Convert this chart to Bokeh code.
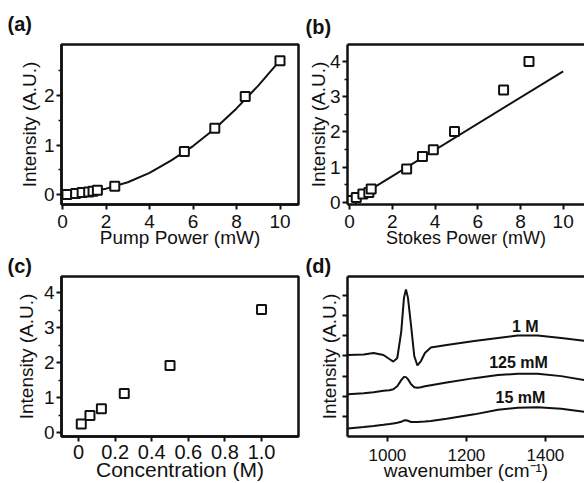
from bokeh.plotting import figure
from bokeh.models import LinearAxis, FixedTicker, Range1d, Title
from bokeh.layouts import gridplot
from bokeh.embed import file_html
from bokeh.resources import INLINE
from bokeh.core.properties import value

# ---------------- data ----------------
# (a) intensity vs pump power
pump_x = [0.2, 0.6, 0.9, 1.2, 1.4, 1.6, 2.4, 5.6, 7.0, 8.4, 10.0]
pump_y = [0.0, 0.02, 0.04, 0.05, 0.07, 0.09, 0.17, 0.87, 1.34, 1.98, 2.70]
pump_fit_x = [0, 1, 2, 3, 4, 5, 6, 7, 8, 9, 10]
pump_fit_y = [0.01, 0.04, 0.12, 0.25, 0.44, 0.69, 0.98, 1.33, 1.74, 2.20, 2.71]

# (b) intensity vs Stokes power
stokes_x = [0.08, 0.31, 0.62, 0.90, 1.01, 2.67, 3.41, 3.92, 4.91, 7.21, 8.40]
stokes_y = [0.05, 0.14, 0.24, 0.28, 0.38, 0.95, 1.30, 1.49, 2.01, 3.19, 4.00]
stokes_fit_x = [0.0, 10.0]
stokes_fit_y = [0.0, 3.72]

# (c) intensity vs concentration
conc_x = [0.015, 0.0625, 0.125, 0.25, 0.5, 1.0]
conc_y = [0.25, 0.49, 0.68, 1.12, 1.92, 3.52]

# (d) spectra (offset, arbitrary units)
wn = [900, 940, 965, 990, 1005, 1015, 1025, 1035, 1042, 1047, 1052, 1060,
      1068, 1076, 1085, 1095, 1110, 1150, 1220, 1280, 1330, 1380, 1440, 1500]
spec_1M = [4.05, 4.08, 4.15, 4.05, 3.85, 3.72, 3.9, 5.2, 6.9, 7.3, 6.9, 5.5,
           4.0, 3.53, 3.75, 4.15, 4.42, 4.55, 4.75, 4.9, 5.02, 5.02, 4.9, 4.75]
spec_125mM = [2.1, 2.15, 2.2, 2.27, 2.3, 2.35, 2.5, 2.8, 2.96, 2.95, 2.85, 2.6,
              2.45, 2.42, 2.45, 2.5, 2.55, 2.68, 2.9, 3.05, 3.12, 3.12, 3.0, 2.8]
spec_15mM = [0.4, 0.47, 0.52, 0.58, 0.62, 0.65, 0.68, 0.73, 0.8, 0.81, 0.78, 0.72,
             0.72, 0.72, 0.73, 0.74, 0.77, 0.88, 1.1, 1.33, 1.43, 1.45, 1.38, 1.22]
spec_labels = ["1 M", "125 mM", "15 mM"]
spec_label_x = [1349, 1332, 1337]
spec_label_y = [5.46, 3.70, 1.95]

FONT = "Liberation Sans"
INK = "#111111"


def style_axis(ax, label, size="19px", label_size="19px", standoff=0, lab_standoff=0):
    ax.axis_line_width = 2.5
    ax.axis_line_color = INK
    ax.major_tick_out = 5
    ax.major_tick_in = 0
    ax.minor_tick_out = 3
    ax.minor_tick_in = 0
    ax.major_tick_line_width = 2
    ax.minor_tick_line_width = 1.5
    ax.major_tick_line_color = INK
    ax.minor_tick_line_color = INK
    ax.major_label_text_font = FONT
    ax.major_label_text_font_size = size
    ax.major_label_text_color = INK
    ax.major_label_standoff = standoff
    ax.axis_label = label
    ax.axis_label_text_font = FONT
    ax.axis_label_text_font_size = label_size
    ax.axis_label_text_font_style = "normal"
    ax.axis_label_text_color = INK
    ax.axis_label_standoff = lab_standoff


def make_fig(w, h, xr, yr, bl, br, bt, bb, open_right, tag, tag_off, tag_standoff):
    p = figure(width=w, height=h, x_range=Range1d(*xr), y_range=Range1d(*yr),
               output_backend="svg", toolbar_location=None,
               min_border_left=bl, min_border_right=br,
               min_border_top=bt, min_border_bottom=bb)
    p.grid.visible = False
    p.background_fill_color = "white"
    p.border_fill_color = "white"
    if open_right:
        p.outline_line_color = None
        top = LinearAxis(ticker=FixedTicker(ticks=[], minor_ticks=[]),
                         axis_line_width=2.5, axis_line_color=INK,
                         major_tick_out=0, minor_tick_out=0, major_label_standoff=0)
        p.add_layout(top, "above")
    else:
        p.outline_line_color = INK
        p.outline_line_width = 2.5
        p.outline_line_alpha = 1.0
    p.add_layout(Title(text=tag, text_font=FONT, text_font_size="20px",
                       text_font_style="bold", text_color=INK, align="left",
                       offset=tag_off, standoff=tag_standoff), "above")
    return p


# ---------------- (a) ----------------
pa = make_fig(300, 252, (-0.05, 10.85), (-0.2, 3.03), 61, 2, 44, 48, False, "(a)", -54, 19)
xa, ya = pa.below[0], pa.left[0]
style_axis(xa, "Pump Power (mW)", standoff=5, lab_standoff=-4)
style_axis(ya, "Intensity (A.U.)", standoff=2, lab_standoff=1)
xa.ticker = FixedTicker(ticks=[0, 2, 4, 6, 8, 10])
ya.ticker = FixedTicker(ticks=[0, 1, 2], minor_ticks=[0.5, 1.5, 2.5])
pa.line(pump_fit_x, pump_fit_y, line_color=INK, line_width=2)
pa.scatter(pump_x, pump_y, marker="square", size=9, fill_color="white",
           line_color=INK, line_width=2)

# ---------------- (b) ----------------
pb = make_fig(284, 252, (-0.1, 11.0), (-0.06, 4.48), 47, 0, 44, 48, True, "(b)", -42, 13)
xb, yb = pb.below[0], pb.left[0]
style_axis(xb, "Stokes Power (mW)", label_size="18px", standoff=5, lab_standoff=-3)
style_axis(yb, "Intensity (A.U.)", standoff=2, lab_standoff=-2)
xb.ticker = FixedTicker(ticks=[0, 2, 4, 6, 8, 10])
yb.ticker = FixedTicker(ticks=[0, 1, 2, 3, 4], minor_ticks=[0.5, 1.5, 2.5, 3.5])
pb.line(stokes_fit_x, stokes_fit_y, line_color=INK, line_width=2)
pb.scatter(stokes_x, stokes_y, marker="square", size=9, fill_color="white",
           line_color=INK, line_width=2)

# ---------------- (c) ----------------
pc = make_fig(300, 231, (-0.093, 1.202), (-0.11, 4.46), 61, 2, 24, 45, False, "(c)", -54, 0)
xc, yc = pc.below[0], pc.left[0]
style_axis(xc, "Concentration (M)", size="20px", label_size="21px", standoff=3, lab_standoff=-4)
style_axis(yc, "Intensity (A.U.)", standoff=2, lab_standoff=4)
xc.ticker = FixedTicker(ticks=[0, 0.2, 0.4, 0.6, 0.8, 1.0])
xc.major_label_overrides = {0: "0", 0.2: "0.2", 0.4: "0.4", 0.6: "0.6",
                            0.8: "0.8", 1.0: "1.0"}
yc.ticker = FixedTicker(ticks=[0, 1, 2, 3, 4], minor_ticks=[0.5, 1.5, 2.5, 3.5])
pc.scatter(conc_x, conc_y, marker="square", size=9, fill_color="white",
           line_color=INK, line_width=2)

# ---------------- (d) ----------------
pd_ = make_fig(284, 231, (899, 1499), (0, 7.95), 47, 0, 24, 45, True, "(d)", -42, 0)
xd, yd = pd_.below[0], pd_.left[0]
style_axis(xd, "wavenumber (cm\u207b\u00b9)", size="17px", standoff=7, lab_standoff=-4)
style_axis(yd, "Intensity (A.U.)", standoff=2, lab_standoff=3)
xd.ticker = FixedTicker(ticks=[1000, 1200, 1400])
yd.ticker = FixedTicker(ticks=[], minor_ticks=[1, 2, 3, 4, 5, 6, 7])
yd.minor_tick_out = 5
yd.minor_tick_line_width = 2
for ys in (spec_1M, spec_125mM, spec_15mM):
    pd_.line(wn, ys, line_color=INK, line_width=2)
pd_.text(spec_label_x, spec_label_y, text=spec_labels, text_font=value(FONT),
         text_font_size="16px", text_font_style="bold", text_color=INK,
         text_align="center", text_baseline="middle")

grid = gridplot([[pa, pb], [pc, pd_]], toolbar_location=None)

open("out.html", "w").write(file_html(grid, INLINE))
